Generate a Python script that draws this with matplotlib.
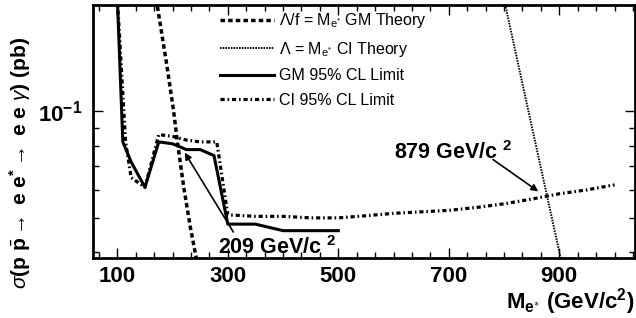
import matplotlib
matplotlib.use("Agg")
import matplotlib.pyplot as plt
from matplotlib.ticker import FixedLocator, MultipleLocator, FixedFormatter, LogLocator, NullFormatter

plt.rcParams['font.family'] = ['Liberation Sans', 'DejaVu Sans']
plt.rcParams['mathtext.fontset'] = 'custom'
plt.rcParams['mathtext.rm'] = 'Liberation Sans'
plt.rcParams['mathtext.bf'] = 'Liberation Sans:bold'
plt.rcParams['mathtext.it'] = 'Liberation Sans:italic'

# ---- data ----
gm_theory_m = [170, 190, 202, 209, 220, 232, 245]
gm_theory_xs = [0.21, 0.134, 0.100, 0.0815, 0.0614, 0.0472, 0.037]

ci_theory_m = [795, 850, 910]
ci_theory_xs = [0.225, 0.091, 0.034]

gm_limit_m = [100, 110, 125, 150, 175, 200, 225, 250, 275, 300, 350, 400, 450, 500]
gm_limit_xs = [0.21, 0.082, 0.072, 0.061, 0.082, 0.081, 0.078, 0.078, 0.075,
               0.048, 0.048, 0.046, 0.046, 0.046]

ci_limit_m = [100, 115, 125, 150, 175, 200, 225, 250, 280, 300, 350, 400, 450, 500,
              550, 600, 650, 700, 750, 800, 850, 900, 950, 1000]
ci_limit_xs = [0.21, 0.082, 0.065, 0.061, 0.086, 0.085, 0.083, 0.082, 0.082, 0.051,
               0.0505, 0.0505, 0.050, 0.050, 0.0507, 0.0515, 0.052, 0.0525, 0.0535,
               0.0548, 0.0565, 0.0585, 0.060, 0.062]

x_major = [100, 300, 500, 700, 900]
x_labels = ["100", "300", "500", "700", "900"]
y_major = [0.1]
y_labels = [r"$\mathbf{10^{-1}}$"]

labels = [r"$\Lambda$/f = M$_{\mathrm{e}^{*}}$ GM Theory",
          r"$\Lambda$ = M$_{\mathrm{e}^{*}}$ CI Theory",
          "GM 95% CL Limit",
          "CI 95% CL Limit"]

fig = plt.figure(figsize=(6.36, 3.18), dpi=100)
ax = fig.add_axes([93/636, 1-258/318, 542/636, 253/318])

l1, = ax.plot(gm_theory_m, gm_theory_xs, color='k', lw=2.5, linestyle=(0, (1.3, 0.9)))
l2, = ax.plot(ci_theory_m, ci_theory_xs, color='k', lw=1.4, linestyle=(0, (0.8, 0.6)))
l3, = ax.plot(gm_limit_m, gm_limit_xs, color='k', lw=2.2, linestyle='-')
l4, = ax.plot(ci_limit_m, ci_limit_xs, color='k', lw=2.3, linestyle=(0, (1.3, 0.9, 0.5, 0.9)))

ax.set_yscale('log')
ax.set_xlim(56, 1037)
ax.set_ylim(0.0385, 0.2)

ax.xaxis.set_major_locator(FixedLocator(x_major))
ax.xaxis.set_major_formatter(FixedFormatter(x_labels))
ax.xaxis.set_minor_locator(MultipleLocator(100/3))
ax.yaxis.set_major_locator(FixedLocator(y_major))
ax.yaxis.set_major_formatter(FixedFormatter(y_labels))
ax.yaxis.set_minor_locator(LogLocator(base=10, subs=[2, 3, 4, 5, 6, 7, 8, 9]))
ax.yaxis.set_minor_formatter(NullFormatter())

ax.tick_params(which='both', direction='in', top=True, right=True, width=1.0)
ax.tick_params(which='major', length=7)
ax.tick_params(which='minor', length=4)
ax.tick_params(axis='x', which='major', labelsize=16, pad=6)
ax.tick_params(axis='y', which='major', labelsize=16, pad=8)
for lab in ax.get_xticklabels():
    lab.set_fontweight('bold')
for s in ax.spines.values():
    s.set_linewidth(2.0)

leg = ax.legend([l1, l2, l3, l4], labels, loc='upper left',
                bbox_to_anchor=(0.234, 0.975), frameon=False, fontsize=11.5,
                handlelength=3.4, handletextpad=0.3, borderpad=0,
                borderaxespad=0, labelspacing=0.6)

# annotations
ax.annotate("", xy=(222, 0.0765), xytext=(310, 0.0456),
            arrowprops=dict(arrowstyle='-|>', lw=1.2, color='k',
                            mutation_scale=10, shrinkA=0, shrinkB=0))
ax.text(283, 0.0413, r"209 GeV/c $^{\mathbf{2}}$", fontsize=15.5, fontweight='bold',
        ha='left', va='center')
ax.annotate("", xy=(862, 0.0594), xytext=(780, 0.0731),
            arrowprops=dict(arrowstyle='-|>', lw=1.2, color='k',
                            mutation_scale=10, shrinkA=0, shrinkB=0))
ax.text(600, 0.0765, r"879 GeV/c $^{\mathbf{2}}$", fontsize=15.5, fontweight='bold',
        ha='left', va='center')

fig.text(634/636, 1-302/318, r"M$_{\mathbf{e}^{\ast}}$ (GeV/c$^{\mathbf{2}}$)",
         fontsize=16, fontweight='bold', ha='right', va='center')
fig.text(20/636, 1-163/318,
         r"$\sigma$(p $\bar{\mathbf{p}}\rightarrow$ e e$^{\mathbf{*}}\rightarrow$ e e $\gamma$) (pb)",
         fontsize=15, fontweight='bold', rotation=90, ha='center', va='center')

fig.savefig("out.png", dpi=100)
